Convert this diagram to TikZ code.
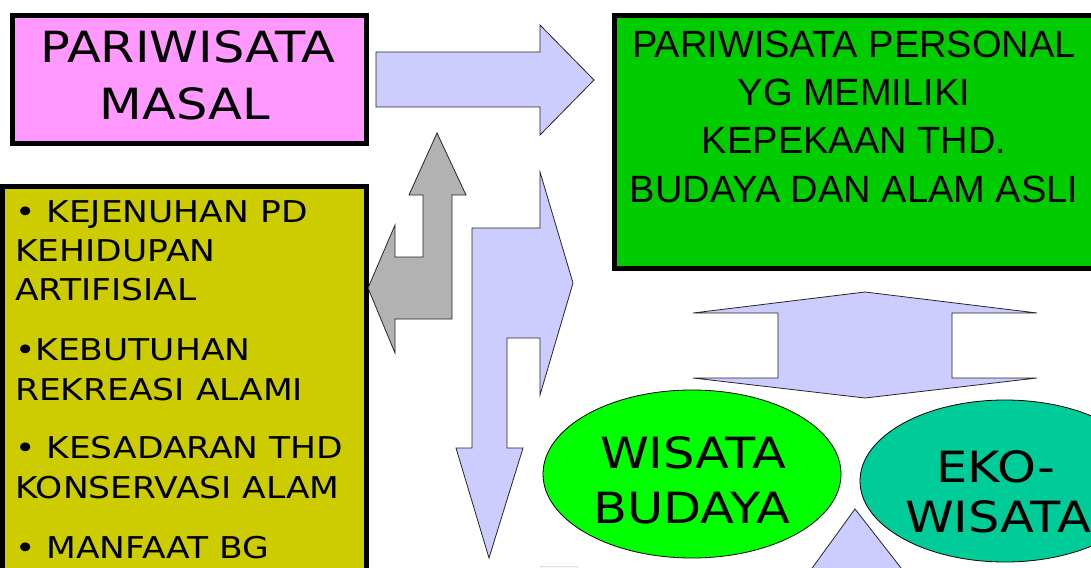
\documentclass[tikz,border=0pt]{standalone}
\usepackage{fontspec}
\usetikzlibrary{shapes.geometric}
\setmainfont{Liberation Sans}
\newfontfamily\comicfont[FakeStretch=1.15]{DejaVu Sans}
\definecolor{pinkfill}{HTML}{FF99FF}
\definecolor{greenfill}{HTML}{00CC00}
\definecolor{olivefill}{HTML}{CCCC00}
\definecolor{limefill}{HTML}{00FF00}
\definecolor{tealfill}{HTML}{00CC99}
\definecolor{arrowblue}{HTML}{CCCCFF}
\definecolor{arrowgrey}{HTML}{B2B2B2}

\begin{document}
\begin{tikzpicture}[x=1pt,y=-1pt,
  box/.style={draw=black,line width=5pt,inner sep=0pt},
  oval/.style={draw=black,ellipse,line width=0.8pt,inner sep=0pt},
  blockarrow/.style={draw=black!85,line width=0.8pt},
  bigtext/.style={anchor=base,inner sep=0pt,font=\comicfont\fontsize{43}{50}\selectfont},
  arialtext/.style={anchor=base,inner sep=0pt,font=\fontsize{38}{46}\selectfont},
  item/.style={anchor=base west,inner sep=0pt,font=\comicfont\fontsize{30}{36}\selectfont}]
\clip (0,0) rectangle (1091,567);
\fill[white] (0,0) rectangle (1091,567);

\node[box,fill=pinkfill,minimum width=354pt,minimum height=128pt] (masal) at (189.5,79.5) {};
\node[bigtext] (masal1) at (188,63) {PARIWISATA};
\node[bigtext] (masal2) at (185,120) {MASAL};

\node[box,fill=greenfill,minimum width=480pt,minimum height=252.5pt] (personal) at (854,141.75) {};
\node[arialtext] (personal1) at (854,58) {PARIWISATA PERSONAL};
\node[arialtext] (personal2) at (854,106) {YG MEMILIKI};
\node[arialtext] (personal3) at (854,153) {KEPEKAAN THD.};
\node[arialtext] (personal4) at (854,202) {BUDAYA DAN ALAM ASLI};

\node[box,fill=olivefill,minimum width=363.5pt,minimum height=434pt] (faktor) at (184.25,403) {};
\node[item] (faktor1) at (15,222) {• KEJENUHAN PD};
\node[item] (faktor2) at (15,261) {KEHIDUPAN};
\node[item] (faktor3) at (15,300) {ARTIFISIAL};
\node[item] (faktor4) at (15,360) {•KEBUTUHAN};
\node[item] (faktor5) at (15,400) {REKREASI ALAMI};
\node[item] (faktor6) at (15,458) {• KESADARAN THD};
\node[item] (faktor7) at (15,498) {KONSERVASI ALAM};
\node[item] (faktor8) at (15,558) {• MANFAAT BG};

\node[oval,fill=limefill,minimum width=298pt,minimum height=168pt] (budaya) at (692,474) {};
\node[bigtext] (budaya1) at (693,468) {WISATA};
\node[bigtext] (budaya2) at (692,523) {BUDAYA};

\node[oval,fill=tealfill,minimum width=290pt,minimum height=162pt] (ekowisata) at (1005,481) {};
\node[bigtext] (ekowisata1) at (996,482) {EKO-};
\node[bigtext] (ekowisata2) at (998,532) {WISATA};

\draw[blockarrow,fill=arrowblue] (376,52) -- (540,52) -- (540,25) -- (594,80) -- (540,135) -- (540,107) -- (376,107) -- cycle;
\draw[blockarrow,fill=arrowgrey] (437,133) -- (466,195) -- (452,195) -- (452,319) -- (395,319) -- (395,353) -- (368,288) -- (395,225) -- (395,257) -- (423,257) -- (423,195) -- (409,195) -- cycle;
\draw[blockarrow,fill=arrowblue] (472,228) -- (540,228) -- (540,172) -- (573,283) -- (540,395) -- (540,338) -- (507,338) -- (507,448) -- (523,448) -- (489,558) -- (456,448) -- (472,448) -- cycle;
\draw[blockarrow,fill=arrowblue] (865,292) -- (1037,313) -- (952,313) -- (952,378) -- (1037,378) -- (865,398) -- (693,378) -- (778,378) -- (778,313) -- (693,313) -- cycle;
\draw[blockarrow,fill=arrowblue] (855,509) -- (926,600) -- (789,600) -- cycle;
\draw[draw=black!12,fill=black!4] (540,566) rectangle (577,590);
\end{tikzpicture}
\end{document}
